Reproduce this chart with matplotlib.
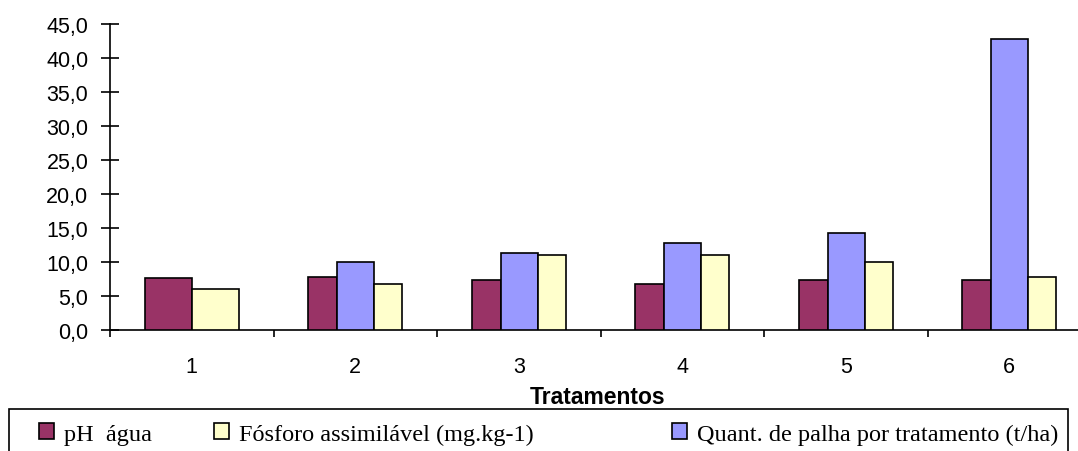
import matplotlib
matplotlib.use("Agg")
import matplotlib.pyplot as plt
import numpy as np
from matplotlib.patches import Rectangle, Patch
from matplotlib.ticker import FuncFormatter, FixedLocator

# values
categories = ["1", "2", "3", "4", "5", "6"]
ph_agua = [7.6, 7.8, 7.3, 6.8, 7.3, 7.3]
palha = [np.nan, 10.0, 11.3, 12.8, 14.2, 42.8]
fosforo = [6.0, 6.8, 11.0, 11.0, 10.0, 7.8]

series_names = ["pH  água", "Quant. de palha por tratamento (t/ha)", "Fósforo assimilável (mg.kg-1)"]
series_colors = ["#993366", "#9999FF", "#FFFFCC"]
series_weights = [29, 37, 28]   # relative bar widths as drawn in the original
GROUP_WIDTH = 0.575

plt.rcParams["font.family"] = ["Liberation Sans", "DejaVu Sans"]

fig = plt.figure(figsize=(10.78, 4.52), dpi=100)
ax = fig.add_axes([110 / 1078, 1 - 331 / 452, 6 * 163.5 / 1078, 306 / 452])

data = [ph_agua, palha, fosforo]
n = len(categories)
lefts = [[np.nan] * n for _ in data]
widths = [[0.0] * n for _ in data]
for i in range(n):
    present = [k for k in range(len(data)) if not np.isnan(data[k][i])]
    if len(present) == len(data):
        w = [series_weights[k] for k in present]
    else:
        w = [1.0 for k in present]
    w = np.array(w) / sum(w) * GROUP_WIDTH
    x0 = i + 0.5 - GROUP_WIDTH / 2
    for k, wk in zip(present, w):
        lefts[k][i] = x0
        widths[k][i] = wk
        x0 += wk

for k in range(len(data)):
    vals = np.nan_to_num(np.array(data[k], dtype=float))
    ax.bar(lefts[k], vals, width=widths[k], align="edge",
           color=series_colors[k], edgecolor="black", linewidth=1.2, zorder=3)

ax.set_xlim(0, 6)
ax.set_ylim(0, 45)
ax.set_yticks(np.arange(0, 46, 5))
ax.yaxis.set_major_formatter(FuncFormatter(lambda v, p: f"{v:.1f}".replace(".", ",")))

ax.xaxis.set_major_locator(FixedLocator(np.arange(0, 7)))
ax.xaxis.set_minor_locator(FixedLocator(np.arange(n) + 0.5))
ax.set_xticklabels([])
ax.set_xticklabels(categories, minor=True)
ax.tick_params(axis="x", which="major", direction="out", length=5, width=1.2)
ax.tick_params(axis="x", which="minor", length=0, pad=19, labelsize=15.5)
ax.tick_params(axis="y", direction="inout", length=13, width=1.2, pad=9, labelsize=15.5)

for s in ["top", "right"]:
    ax.spines[s].set_visible(False)
for s in ["left", "bottom"]:
    ax.spines[s].set_linewidth(1.2)

fig.text(598 / 1078, 1 - 398 / 452, "Tratamentos", ha="center", va="center",
         fontsize=16.5, fontweight="bold")

# legend frame runs off the bottom of the image
fig.patches.append(Rectangle((9 / 1078, -0.05), (1068 - 9) / 1078, 0.05 + 1 - 410 / 452,
                             transform=fig.transFigure, fill=False, edgecolor="black",
                             linewidth=1.2))

# one entry per legend box so each sits where the original put it
legend_x = [39, 672, 214]
for k in range(len(data)):
    h = Patch(facecolor=series_colors[k], edgecolor="black", linewidth=1.2)
    fig.legend([h], [series_names[k]], loc="center left",
               bbox_to_anchor=(legend_x[k] / 1078, 1 - 435 / 452),
               frameon=False, prop={"family": "Liberation Serif", "size": 17.5},
               handlelength=0.62, handleheight=0.62, handletextpad=0.4,
               borderpad=0, borderaxespad=0)

fig.savefig("out.png", dpi=100)
